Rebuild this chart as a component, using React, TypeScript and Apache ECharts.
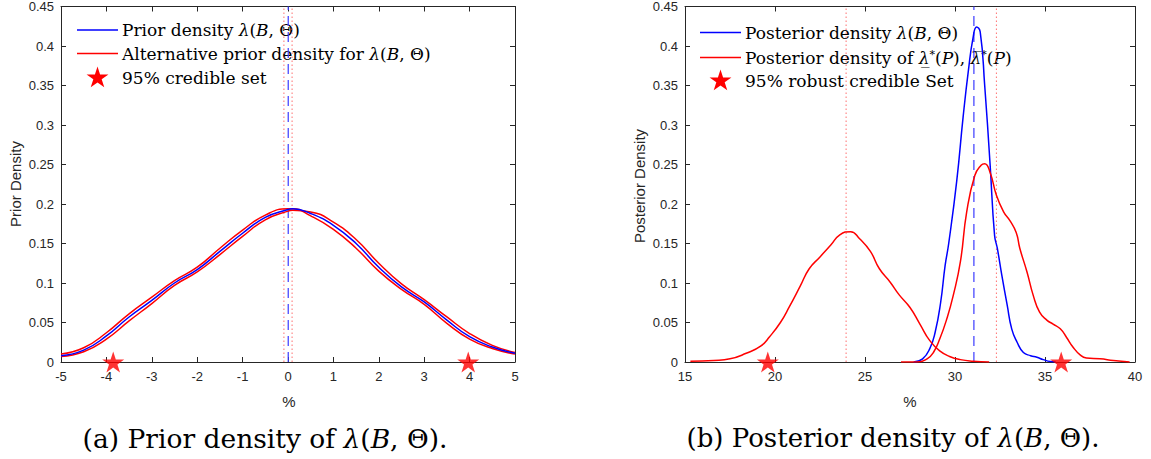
import React, { useEffect, useRef } from "react";
import * as echarts from "echarts";

// ---------- data ----------
const priorX = [-5, -4.5, -4, -3.5, -3, -2.5, -2, -1.5, -1, -0.5, 0, 0.1, 0.5, 1, 1.5, 2, 2.5, 3, 3.5, 4, 4.5, 5];
const priorBlue = [0.008, 0.015, 0.033, 0.057, 0.078, 0.1, 0.117, 0.14, 0.163, 0.183, 0.193, 0.194, 0.188, 0.173, 0.15, 0.12, 0.095, 0.076, 0.053, 0.032, 0.019, 0.011];
const priorRedA = [0.01, 0.018, 0.037, 0.061, 0.082, 0.103, 0.12, 0.144, 0.167, 0.186, 0.194, 0.194, 0.185, 0.168, 0.144, 0.115, 0.092, 0.073, 0.049, 0.029, 0.017, 0.01];
const priorRedB = [0.007, 0.013, 0.029, 0.052, 0.074, 0.097, 0.114, 0.136, 0.159, 0.18, 0.191, 0.192, 0.19, 0.177, 0.155, 0.125, 0.099, 0.079, 0.057, 0.036, 0.021, 0.012];
const priorStarsX = [-3.85, 3.97];
const priorBlueLine = [0.005];
const priorRedLines = [-0.09, 0.09];

const postBlueX = [27.7, 28.2, 28.6, 28.9, 29.2, 29.45, 29.65, 30.1, 30.45, 30.75, 31.0, 31.2, 31.4, 31.65, 31.95, 32.2, 32.35, 32.6, 32.9, 33.15, 33.45, 33.8, 34.2, 34.55, 34.9, 35.3, 35.6];
const postBlueY = [0, 0.004, 0.017, 0.038, 0.075, 0.122, 0.15, 0.23, 0.31, 0.37, 0.41, 0.424, 0.418, 0.35, 0.25, 0.16, 0.144, 0.11, 0.072, 0.042, 0.025, 0.012, 0.008, 0.006, 0.003, 0.0005, 0];
const postLowX = [15.3, 16.6, 17.5, 18.4, 19.2, 19.7, 20.3, 20.8, 21.4, 21.9, 22.5, 23.1, 23.6, 24.2, 24.7, 25.3, 25.8, 26.4, 26.9, 27.5, 28.05, 28.6, 29.15, 29.7, 30.3, 31.0, 31.9];
const postLowY = [0.001, 0.002, 0.004, 0.011, 0.02, 0.032, 0.05, 0.07, 0.096, 0.118, 0.133, 0.148, 0.161, 0.165, 0.156, 0.14, 0.118, 0.101, 0.085, 0.069, 0.048, 0.027, 0.014, 0.007, 0.003, 0.001, 0];
const postHighX = [27.0, 27.9, 28.45, 28.8, 29.15, 29.55, 29.9, 30.3, 30.65, 31.1, 31.45, 31.65, 31.95, 32.3, 32.7, 33.05, 33.4, 33.6, 34.0, 34.35, 34.7, 35.1, 35.45, 35.85, 36.2, 36.55, 36.95, 37.3, 38.05, 38.8, 39.7];
const postHighY = [0, 0, 0.004, 0.012, 0.029, 0.055, 0.084, 0.127, 0.19, 0.236, 0.249, 0.251, 0.24, 0.211, 0.19, 0.179, 0.164, 0.144, 0.114, 0.084, 0.063, 0.053, 0.048, 0.042, 0.031, 0.019, 0.009, 0.005, 0.004, 0.002, 0];
const postStarsX = [19.6, 35.9];
const postBlueLine = [31.05];
const postRedLines = [23.95, 32.3];

const yTicks = { min: 0, max: 0.45, interval: 0.05 };
const priorXAxis = { min: -5, max: 5, interval: 1 };
const postXAxis = { min: 15, max: 40, interval: 5 };

const legendLeft = ["Prior density ", "Alternative prior density for ", "95% credible set"];
const legendRight = ["Posterior density ", "Posterior density of ", "95% robust credible Set"];
const captions = ["(a) Prior density of ", "(b) Posterior density of "];
const yNames = ["Prior Density", "Posterior Density"];
const xName = "%";

// ---------- style ----------
const AX = "#262626";
const SANS = "'Liberation Sans', Arial, sans-serif";
const SERIF = "'DejaVu Serif', 'Liberation Serif', serif";
const STAR =
  "path://M50 0 L61.23 34.55 L97.55 34.55 L68.17 55.9 L79.39 90.45 L50 69.1 L20.61 90.45 L31.83 55.9 L2.45 34.55 L38.77 34.55 Z";

const zip = (xs: number[], ys: number[]) => xs.map((x, i) => [x, ys[i]]);

function starPoints(cx: number, cy: number, r: number) {
  const pts: number[][] = [];
  for (let i = 0; i < 10; i++) {
    const a = -Math.PI / 2 + (i * Math.PI) / 5;
    const rr = i % 2 === 0 ? r : r * 0.382;
    pts.push([cx + rr * Math.cos(a), cy + rr * Math.sin(a)]);
  }
  return pts;
}

const richMath = (size: number) => ({
  up: { fontFamily: SERIF, fontSize: size, color: "#000" },
  it: { fontFamily: SERIF, fontSize: size, fontStyle: "italic", color: "#000" },
  sup: { fontFamily: SERIF, fontSize: Math.round(size * 0.62), color: "#000", verticalAlign: "top" },
});

const lamBT = "{it|λ}{up|(}{it|B}{up|, Θ)}";

function legendGroup(x0: number, ys: number[], texts: string[]) {
  const fs = 17;
  const lineX1 = x0;
  const lineX2 = x0 + 41;
  const tx = x0 + 45;
  const txt = (i: number) => ({
    type: "text",
    x: tx,
    y: ys[i],
    style: { text: texts[i], rich: richMath(fs), fontFamily: SERIF, fontSize: fs, verticalAlign: "middle", fill: "#000" },
  });
  return [
    { type: "line", shape: { x1: lineX1, y1: ys[0], x2: lineX2, y2: ys[0] }, style: { stroke: "#0000ff", lineWidth: 1.4 } },
    { type: "line", shape: { x1: lineX1, y1: ys[1], x2: lineX2, y2: ys[1] }, style: { stroke: "#ff0000", lineWidth: 1.4 } },
    { type: "polygon", shape: { points: starPoints((lineX1 + lineX2) / 2, ys[2], 11.5) }, style: { fill: "#ff0000" } },
    txt(0),
    txt(1),
    txt(2),
  ];
}

function axesFor(gridIndex: number, xr: { min: number; max: number; interval: number }) {
  const common = {
    gridIndex,
    type: "value",
    axisLine: { show: true, onZero: false, lineStyle: { color: AX, width: 1 } },
    axisTick: { show: true, inside: true, length: 5, lineStyle: { color: AX } },
    splitLine: { show: false },
  };
  const xAxes = [
    {
      ...common,
      ...xr,
      position: "bottom",
      axisLabel: { color: AX, fontFamily: SANS, fontSize: 13, margin: 8 },
    },
    { ...common, ...xr, position: "top", axisLabel: { show: false } },
  ];
  const yAxes = [
    {
      ...common,
      ...yTicks,
      position: "left",
      axisLabel: {
        color: AX,
        fontFamily: SANS,
        fontSize: 13,
        margin: 7,
        formatter: (v: number) => String(Number(v.toFixed(2))),
      },
    },
    { ...common, ...yTicks, position: "right", axisLabel: { show: false } },
  ];
  return { xAxes, yAxes };
}

// vertical reference lines as plain two-point line series
function vSeries(xs: number[], axis: number, color: string, type: any, width: number) {
  return xs.map((x, i) => ({
    type: "line",
    name: `ref-${axis}-${color}-${i}`,
    xAxisIndex: axis,
    yAxisIndex: axis,
    showSymbol: false,
    symbol: "none",
    silent: true,
    data: [
      [x, yTicks.min],
      [x, yTicks.max],
    ],
    lineStyle: { color, type, width },
    z: 1,
  }));
}

const sansText = (x: number, y: number, text: string, rotation = 0) => ({
  type: "text",
  x,
  y,
  rotation,
  style: { text, fontFamily: SANS, fontSize: 15, fill: AX, align: "center", verticalAlign: "middle" },
});

export default function App() {
  const ref = useRef<HTMLDivElement>(null);
  useEffect(() => {
    if (!ref.current) return;
    const chart = echarts.init(ref.current, undefined, { renderer: "svg" });
    const a = axesFor(0, priorXAxis);
    const b = axesFor(1, postXAxis);
    const lineBase = { type: "line", showSymbol: false, symbol: "none", smooth: 0.5, silent: true, z: 3 };
    const DOT = [1.5, 2.5];
    const DASH = [10, 6];
    const option: any = {
      animation: false,
      backgroundColor: "#fff",
      grid: [
        { left: 61, top: 6, width: 454, height: 356 },
        { left: 685, top: 6, width: 450, height: 356 },
      ],
      xAxis: [...a.xAxes, ...b.xAxes],
      yAxis: [...a.yAxes, ...b.yAxes],
      series: [
        ...vSeries(priorRedLines, 0, "#ff7070", DOT, 1),
        ...vSeries(priorBlueLine, 0, "#3a3aff", DASH, 1.2),
        ...vSeries(postRedLines, 2, "#ff7070", DOT, 1),
        ...vSeries(postBlueLine, 2, "#3a3aff", DASH, 1.2),
        {
          ...lineBase,
          name: "Alternative prior density A",
          xAxisIndex: 0,
          yAxisIndex: 0,
          data: zip(priorX, priorRedA),
          lineStyle: { color: "#ff0000", width: 1.5 },
        },
        {
          ...lineBase,
          name: "Alternative prior density B",
          xAxisIndex: 0,
          yAxisIndex: 0,
          data: zip(priorX, priorRedB),
          lineStyle: { color: "#ff0000", width: 1.5 },
        },
        {
          ...lineBase,
          name: "Prior density",
          xAxisIndex: 0,
          yAxisIndex: 0,
          data: zip(priorX, priorBlue),
          lineStyle: { color: "#0000ff", width: 1.5 },
        },
        {
          type: "scatter",
          name: "95% credible set",
          xAxisIndex: 0,
          yAxisIndex: 0,
          symbol: STAR,
          symbolSize: 22,
          symbolKeepAspect: true,
          itemStyle: { color: "#ff0000" },
          data: priorStarsX.map((x) => [x, 0]),
          z: 5,
          silent: true,
        },
        {
          ...lineBase,
          name: "Posterior density",
          xAxisIndex: 2,
          yAxisIndex: 2,
          data: zip(postBlueX, postBlueY),
          lineStyle: { color: "#0000ff", width: 1.5 },
        },
        {
          ...lineBase,
          name: "Posterior lower",
          xAxisIndex: 2,
          yAxisIndex: 2,
          data: zip(postLowX, postLowY),
          lineStyle: { color: "#ff0000", width: 1.5 },
        },
        {
          ...lineBase,
          name: "Posterior upper",
          xAxisIndex: 2,
          yAxisIndex: 2,
          data: zip(postHighX, postHighY),
          lineStyle: { color: "#ff0000", width: 1.5 },
        },
        {
          type: "scatter",
          name: "95% robust credible Set",
          xAxisIndex: 2,
          yAxisIndex: 2,
          symbol: STAR,
          symbolSize: 22,
          symbolKeepAspect: true,
          itemStyle: { color: "#ff0000" },
          data: postStarsX.map((x) => [x, 0]),
          z: 5,
          silent: true,
        },
      ],
      graphic: [
        ...legendGroup(77, [30, 53.5, 78], [
          `{up|${legendLeft[0]}}${lamBT}`,
          `{up|${legendLeft[1]}}${lamBT}`,
          `{up|${legendLeft[2]}}`,
        ]),
        ...legendGroup(700, [32.5, 57.5, 81], [
          `{up|${legendRight[0]}}${lamBT}`,
          `{up|${legendRight[1]}}{it|λ\u0332}{sup|*}{up|(}{it|P}{up|), }{it|λ\u0305}{sup|*}{up|(}{it|P}{up|)}`,
          `{up|${legendRight[2]}}`,
        ]),
        sansText(15, 184, yNames[0], Math.PI / 2),
        sansText(639, 186, yNames[1], Math.PI / 2),
        sansText(289, 401, xName),
        sansText(910, 401, xName),
        {
          type: "text",
          x: 265,
          y: 438,
          style: {
            text: `{up|${captions[0]}}${lamBT}{up|.}`,
            rich: richMath(26.5),
            align: "center",
            verticalAlign: "middle",
            fontFamily: SERIF,
            fontSize: 26.5,
          },
        },
        {
          type: "text",
          x: 893,
          y: 438,
          style: {
            text: `{up|${captions[1]}}${lamBT}{up|.}`,
            rich: richMath(26),
            align: "center",
            verticalAlign: "middle",
            fontFamily: SERIF,
            fontSize: 26,
          },
        },
      ],
    };
    chart.setOption(option);
    return () => chart.dispose();
  }, []);
  return <div ref={ref} style={{ position: "fixed", left: 0, top: 0, width: 1151, height: 459, background: "#fff" }} />;
}
